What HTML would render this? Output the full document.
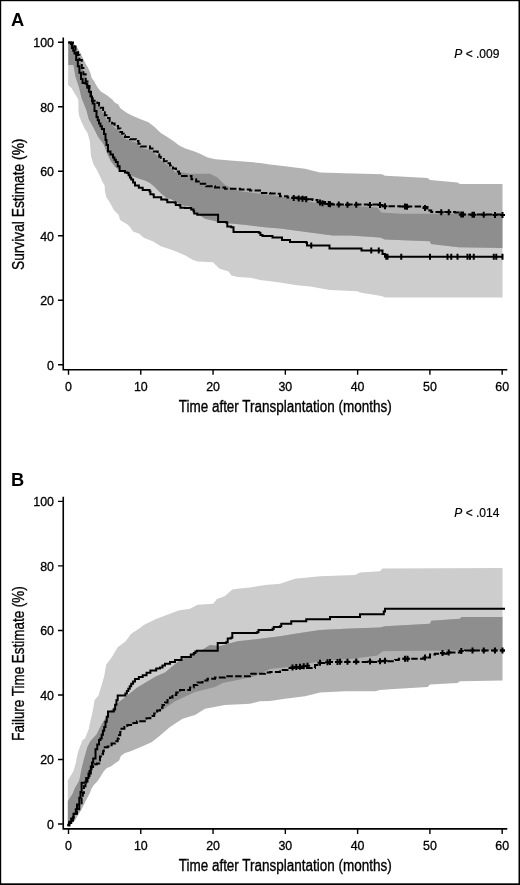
<!DOCTYPE html>
<html><head><meta charset="utf-8"><style>
html,body{margin:0;padding:0;background:#fff;}
svg{display:block;filter:grayscale(1);}
text{font-family:"Liberation Sans",sans-serif;fill:#000;}
.tk{font-size:12.4px;stroke:#000;stroke-width:0.3px;}
.ti{font-size:16px;stroke:#000;stroke-width:0.35px;}
.lb{font-size:18.3px;font-weight:bold;}
.pv{font-size:12px;stroke:#000;stroke-width:0.2px;}
</style></head><body>
<svg width="520" height="885" viewBox="0 0 520 885">
<rect width="520" height="885" fill="#fff"/>
<clipPath id="cl1"><polygon points="68.3,42.2 73.2,43.4 75.5,49.5 78.5,56 80.5,62 82.5,68 84.5,74 86.5,80 88.5,86 90.5,92 92.7,101.5 97.3,104.6 100.8,109.2 103.1,113.8 106.5,119.6 109.6,122.7 114.6,127.5 118.1,130 120.4,133.4 123.8,136.9 125,138.5 130,140.7 136,142.5 140.8,148 150,150 157.7,156.1 160.8,160.5 170,166.9 176,173 180,172 190,173.75 210,173.75 217.5,177.5 225,185 240,191.25 280,196.25 285,197.5 307.5,201.25 320,203.75 377.5,207.5 381.25,212.5 400,213.75 502.5,213.75 502.5,297.5 385,297.5 382.5,296.25 360,292.5 357.5,291.25 330,290 310,286.5 295,285 280,282.5 260,280 250,277.7 237.7,277 231.5,275.4 228.5,271.5 219.2,268.5 216.2,265.4 213,262.3 197.7,261.5 193,260 185.4,255.4 176.2,251.5 170,249.2 160.8,246.2 153.1,241.5 143.8,237.7 139.2,233.8 133.1,231.5 130,226.9 127.5,224.5 120,220 118.75,215 113.8,210 112.3,206.9 109.2,201.5 106.2,196.9 105,191.5 104.6,185.4 102.3,181.5 100,176.2 96.9,170 93.3,164 91,156 89.8,141 87.5,133 85,129 82,123 79.5,117 78.5,112 78.3,99.5 75,94 71.5,88 68.1,85.1"/></clipPath><polygon fill="#cdcdcd" points="68.3,42.2 73.2,43.4 75.5,49.5 78.5,56 80.5,62 82.5,68 84.5,74 86.5,80 88.5,86 90.5,92 92.7,101.5 97.3,104.6 100.8,109.2 103.1,113.8 106.5,119.6 109.6,122.7 114.6,127.5 118.1,130 120.4,133.4 123.8,136.9 125,138.5 130,140.7 136,142.5 140.8,148 150,150 157.7,156.1 160.8,160.5 170,166.9 176,173 180,172 190,173.75 210,173.75 217.5,177.5 225,185 240,191.25 280,196.25 285,197.5 307.5,201.25 320,203.75 377.5,207.5 381.25,212.5 400,213.75 502.5,213.75 502.5,297.5 385,297.5 382.5,296.25 360,292.5 357.5,291.25 330,290 310,286.5 295,285 280,282.5 260,280 250,277.7 237.7,277 231.5,275.4 228.5,271.5 219.2,268.5 216.2,265.4 213,262.3 197.7,261.5 193,260 185.4,255.4 176.2,251.5 170,249.2 160.8,246.2 153.1,241.5 143.8,237.7 139.2,233.8 133.1,231.5 130,226.9 127.5,224.5 120,220 118.75,215 113.8,210 112.3,206.9 109.2,201.5 106.2,196.9 105,191.5 104.6,185.4 102.3,181.5 100,176.2 96.9,170 93.3,164 91,156 89.8,141 87.5,133 85,129 82,123 79.5,117 78.5,112 78.3,99.5 75,94 71.5,88 68.1,85.1"/><polygon fill="#b2b2b2" points="68.3,42.2 72.5,42.8 77.1,47.2 80.2,52.6 83.2,58.8 85.5,63.4 87.8,67.2 90.2,72.6 91.7,78 94,81 97.3,86.9 100.8,91.5 106.5,95 112.3,99.6 114.6,102.5 118.1,104.2 120.4,108.3 126.2,112.5 131.9,115.5 140,119 148.5,122.3 154.6,126.9 160.8,133.1 168.5,137.7 173,140.8 179.2,145.4 185.4,148.5 194.6,151.5 200,153.8 207.7,157.5 215.4,159.2 222,159.8 230,160.5 240,161.25 250,162 260,163 270,164.5 285,166.25 305,168.75 320,172.5 345,173.25 382,174.2 385,175.8 400,176.5 427.5,178 430,180 457.5,182.5 460,184 502.5,184 502.5,248 458.5,247.3 431,244 430,241.25 385,239.5 380,237.5 350,235.5 332.5,235.5 310,232.5 295,230.5 280,228.5 265,227.3 258.8,226.5 246.5,225 231.2,223.5 218.8,222.7 215.8,221.2 205,218.8 200.4,215.8 194.2,210.4 190,206.5 185,205.8 181.2,205 177.3,202.7 171.9,199.6 166.5,198.1 161.9,194.2 158.1,190.4 154.2,186.5 149.6,182.7 145,180.4 137,178 125.4,173 118,169 115.2,167 110.6,160.8 107.2,153.8 103.7,144.6 97.9,136.5 93.3,127.3 88.7,119 86.4,110 84,104 81.5,98 79.2,88 75.4,76.5 73.5,65 68.3,65"/><polygon fill="#8e8e8e" clip-path="url(#cl1)" points="68.3,42.2 72.5,42.8 77.1,47.2 80.2,52.6 83.2,58.8 85.5,63.4 87.8,67.2 90.2,72.6 91.7,78 94,81 97.3,86.9 100.8,91.5 106.5,95 112.3,99.6 114.6,102.5 118.1,104.2 120.4,108.3 126.2,112.5 131.9,115.5 140,119 148.5,122.3 154.6,126.9 160.8,133.1 168.5,137.7 173,140.8 179.2,145.4 185.4,148.5 194.6,151.5 200,153.8 207.7,157.5 215.4,159.2 222,159.8 230,160.5 240,161.25 250,162 260,163 270,164.5 285,166.25 305,168.75 320,172.5 345,173.25 382,174.2 385,175.8 400,176.5 427.5,178 430,180 457.5,182.5 460,184 502.5,184 502.5,248 458.5,247.3 431,244 430,241.25 385,239.5 380,237.5 350,235.5 332.5,235.5 310,232.5 295,230.5 280,228.5 265,227.3 258.8,226.5 246.5,225 231.2,223.5 218.8,222.7 215.8,221.2 205,218.8 200.4,215.8 194.2,210.4 190,206.5 185,205.8 181.2,205 177.3,202.7 171.9,199.6 166.5,198.1 161.9,194.2 158.1,190.4 154.2,186.5 149.6,182.7 145,180.4 137,178 125.4,173 118,169 115.2,167 110.6,160.8 107.2,153.8 103.7,144.6 97.9,136.5 93.3,127.3 88.7,119 86.4,110 84,104 81.5,98 79.2,88 75.4,76.5 73.5,65 68.3,65"/><path d="M68.3,42.4 H71 V44 H72 V48 H73.25 V50.7 H74.5 V53.4 H76.2 V60 H77.8 V66.3 H79.4 V72.7 H81 V79 H82.6 V83 H85.7 V83.7 H87.3 V87.7 H88.9 V91.6 H90.5 V96.4 H92 V101 H92.7 V103.5 H94.5 V111 H96.5 V117 H97.75 V120.25 H99 V123.5 H100.45 V126.25 H101.9 V129 H104 V134 H105.5 V140 H106.5 V145 H108 V151.5 H110.5 V154.5 H113 V157.5 H114.4 V159.75 H115.8 V162 H117.7 V166.2 H119.6 V171 H125 V172.5 H127.3 V173 H128.6 V175.2 H129.9 V177.4 H131.2 V179.6 H133.1 V182.5 H135 V185.4 H138.85 V187.7 H142.7 V190 H149.6 V191.5 H150.4 V194.2 H153.5 V195 H153.8 V197.3 H160.4 V197.3 H161.2 V199.6 H166.5 V200 H167.3 V202.3 H175 V202.7 H175.8 V205 H179.6 V205.4 H180.4 V207.7 H185 V208.1 H189.6 V208.1 H191.2 V209.6 H193.5 V211.2 H194.2 V213.5 H197.3 V214.7 H216.5 V214.7 H218.1 V221.9 H226.5 V222.7 H227.3 V226.5 H231.2 V227.3 H233.5 V231.9 H258.8 V232.7 H260.4 V235 H262.5 V236 H272.5 V237.5 H282 V240 H290 V242 H306 V242.5 H307 V245.5 H328.5 V245.5 H329.5 V248.5 H360.5 V248.5 H361.5 V250.6 H381 V250.6 H382.5 V254 H385 V256.8 H503 V256.8" fill="none" stroke="#000" stroke-width="2" stroke-linejoin="miter"/><path d="M68.3,42.4 H73 V43.5 H74.25 V46.5 H75.5 V49.5 H76.75 V52.25 H78 V55 H79.4 V60 H81.8 V67.9 H83.4 V74.2 H85.7 V81.4 H87.5 V86 H89.5 V92 H91 V97 H92.7 V100.8 H97.3 V103.1 H99.05 V105.4 H100.8 V107.7 H103.1 V112.3 H104.8 V115.2 H106.5 V118.1 H109.6 V121.2 H112.1 V123.6 H114.6 V126 H118.1 V128.5 H120.4 V131.9 H122.1 V133.65 H123.8 V135.4 H125 V137 H130 V139.2 H136 V141 H138.4 V143.75 H140.8 V146.5 H150 V148.5 H153.85 V151.55 H157.7 V154.6 H159.25 V156.8 H160.8 V159 H163.87 V161.13 H166.93 V163.27 H170 V165.4 H173 V168.45 H176 V171.5 H179 V173.75 H182 V176 H191.5 V179.2 H196.15 V181.5 H200.8 V183.8 H206.2 V186.2 H215 V187.5 H225 V188.75 H240 V189.5 H250 V190.5 H260 V193 H270 V193.5 H277.5 V193.75 H280 V196.25 H285 V196.25 H287.5 V197.5 H307.5 V199.25 H312.5 V200 H317.5 V202 H325 V203.75 H332.5 V204.5 H380 V205 H382.5 V206.25 H400 V206.5 H422.5 V207 H427.5 V208.75 H429.38 V210.38 H431.25 V212 H455 V212.5 H458.75 V214.5 H503 V215" fill="none" stroke="#000" stroke-width="2" stroke-dasharray="6.5 2.3"/><path d="M311.25,242.5v6M371.25,247.6v6M378.75,247.6v6M386.25,253.8v6M387.5,253.8v6M401.25,253.8v6M430,253.8v6M447.5,253.8v6M451.25,253.8v6M457.5,253.8v6M467.5,253.8v6M470,253.8v6M473.75,253.8v6M493.75,253.8v6M496.25,253.8v6M502.5,253.8v6M293.75,195.05v6M291.25,198.05h5M298.75,195.48v6M296.25,198.48h5M302.5,195.81v6M300,198.81h5M306.25,196.14v6M303.75,199.14h5M320,199.58v6M317.5,202.58h5M322.5,200.17v6M320,203.17h5M328.75,201.12v6M326.25,204.12h5M330,201.25v6M327.5,204.25h5M338.75,201.57v6M336.25,204.57h5M347.5,201.66v6M345,204.66h5M356.25,201.75v6M353.75,204.75h5M370,201.89v6M367.5,204.89h5M380,202v6M377.5,205h5M385,203.29v6M382.5,206.29h5M405,203.61v6M402.5,206.61h5M407,203.66v6M404.5,206.66h5M425,204.88v6M422.5,207.88h5M441.25,209.21v6M438.75,212.21h5M448.75,209.37v6M446.25,212.37h5M461.25,211.53v6M458.75,214.53h5M463,211.55v6M460.5,214.55h5M472.5,211.66v6M470,214.66h5M474,211.67v6M471.5,214.67h5M483.75,211.78v6M481.25,214.78h5M495,211.91v6M492.5,214.91h5M502.5,211.99v6M500,214.99h5" fill="none" stroke="#000" stroke-width="2"/><path d="M63.25,37.5 V369.7 H507.3" fill="none" stroke="#000" stroke-width="1.6"/><text x="54" y="369.7" text-anchor="end" class="tk">0</text><text x="54" y="305.18" text-anchor="end" class="tk">20</text><text x="54" y="240.66" text-anchor="end" class="tk">40</text><text x="54" y="176.14" text-anchor="end" class="tk">60</text><text x="54" y="111.62" text-anchor="end" class="tk">80</text><text x="54" y="47.1" text-anchor="end" class="tk">100</text><text x="68.5" y="390.5" text-anchor="middle" class="tk">0</text><text x="140.78" y="390.5" text-anchor="middle" class="tk">10</text><text x="213.06" y="390.5" text-anchor="middle" class="tk">20</text><text x="285.34" y="390.5" text-anchor="middle" class="tk">30</text><text x="357.62" y="390.5" text-anchor="middle" class="tk">40</text><text x="429.9" y="390.5" text-anchor="middle" class="tk">50</text><text x="502.18" y="390.5" text-anchor="middle" class="tk">60</text><path d="M58,364.8H63.25M58,300.28H63.25M58,235.76H63.25M58,171.24H63.25M58,106.72H63.25M58,42.2H63.25M68.5,369.7v5M140.78,369.7v5M213.06,369.7v5M285.34,369.7v5M357.62,369.7v5M429.9,369.7v5M502.18,369.7v5" stroke="#000" stroke-width="1.4" fill="none"/><text x="285.2" y="412" text-anchor="middle" class="ti" textLength="213" lengthAdjust="spacingAndGlyphs">Time after Transplantation (months)</text><text transform="translate(23.8,204.3) rotate(-90)" x="0" y="0" text-anchor="middle" class="ti" textLength="131.5" lengthAdjust="spacingAndGlyphs">Survival Estimate (%)</text><text x="11" y="26.3" class="lb">A</text><text x="454.3" y="58" class="pv"><tspan font-style="italic">P</tspan> &lt; .009</text><clipPath id="cl2"><polygon points="67.8,801.2 67.8,780.5 71.3,774.8 73.5,771 75.8,763 77.8,752.5 80,746.5 82.5,740 85,738.5 88.8,728.8 90.8,719.2 92.7,711.5 94.6,700 98.5,695.4 104.2,676.2 106.2,664.6 111.9,656.9 117.7,647.3 125.4,641.5 131.2,633.8 136.9,630 140,627.9 143.8,625 155.4,619.2 178.5,610.6 190,608.7 197.7,604.8 213.1,603.8 216.9,599 224.6,596.2 232.3,589.4 240,588.5 250,587.5 265,585 280,583.75 295,578.75 320,576.25 355,575 360,572.5 380,571.25 382.5,568.5 502.5,568 502.5,650 400,651 382.5,651.25 377.5,655.5 352.5,658.75 320,661.25 295,666.25 270,669 255,676.25 237.5,680 222.5,683 215,687 195,692 175,701.25 162.5,710 150,717 146.5,720.3 136.9,723.2 127.3,727 121.5,730.8 117.7,740.5 115.1,743.2 111.6,745.5 107.7,748.5 103.8,749.3 103.1,753.2 102.3,756.2 100,758.5 99.2,762.4 96.9,765.5 94.6,766.2 93.1,767.8 91.5,769 89.5,773 87.5,778 85.5,783.5 83.9,788.2 82.8,795.1 81.6,799.7 79.3,806.6 77,811.2 74.7,815.8 71.2,822.8 67.8,825.5"/></clipPath><polygon fill="#cdcdcd" points="67.8,801.2 67.8,780.5 71.3,774.8 73.5,771 75.8,763 77.8,752.5 80,746.5 82.5,740 85,738.5 88.8,728.8 90.8,719.2 92.7,711.5 94.6,700 98.5,695.4 104.2,676.2 106.2,664.6 111.9,656.9 117.7,647.3 125.4,641.5 131.2,633.8 136.9,630 140,627.9 143.8,625 155.4,619.2 178.5,610.6 190,608.7 197.7,604.8 213.1,603.8 216.9,599 224.6,596.2 232.3,589.4 240,588.5 250,587.5 265,585 280,583.75 295,578.75 320,576.25 355,575 360,572.5 380,571.25 382.5,568.5 502.5,568 502.5,650 400,651 382.5,651.25 377.5,655.5 352.5,658.75 320,661.25 295,666.25 270,669 255,676.25 237.5,680 222.5,683 215,687 195,692 175,701.25 162.5,710 150,717 146.5,720.3 136.9,723.2 127.3,727 121.5,730.8 117.7,740.5 115.1,743.2 111.6,745.5 107.7,748.5 103.8,749.3 103.1,753.2 102.3,756.2 100,758.5 99.2,762.4 96.9,765.5 94.6,766.2 93.1,767.8 91.5,769 89.5,773 87.5,778 85.5,783.5 83.9,788.2 82.8,795.1 81.6,799.7 79.3,806.6 77,811.2 74.7,815.8 71.2,822.8 67.8,825.5"/><polygon fill="#b2b2b2" points="67.8,801.2 72.4,794.2 74.7,788.5 79.3,780.6 81.6,768.8 84,759 87.4,747 90.5,741 96.5,734.6 102.3,723.1 110,711.5 117.7,703 127.3,695.4 136.9,687.7 146.5,681.9 156.2,676.2 165,672.5 180,660 200,651.25 210,645 220,646 237.5,641.25 260,638.75 280,636.25 295,633.75 320,630 345,628.75 380,627.5 385,626.25 430,623.75 431.25,620.75 460,618.75 461.25,617 502.5,617 502.5,680.5 460,681.25 457.5,683 430,684.5 427.5,687 390,689.25 380,690 375,691.25 345,691.25 320,692.5 305,696.25 285,698.75 270,701 260,701.25 250,703.75 225,705 205,708.75 195,715 182.5,718.75 170,726.9 159.2,736.2 151.5,742.3 140.8,746.9 130,751.5 125,753 120.8,756 119.2,760.4 113.8,764.2 110.8,766.5 106.9,768.1 103.8,771.2 101.5,775 99.2,778.8 96.9,781.9 93.8,785 91.5,788.8 90,792.7 85.1,802.3 81.6,809.2 74.7,820.8 68.9,825.4 67.8,825.5"/><polygon fill="#8e8e8e" clip-path="url(#cl2)" points="67.8,801.2 72.4,794.2 74.7,788.5 79.3,780.6 81.6,768.8 84,759 87.4,747 90.5,741 96.5,734.6 102.3,723.1 110,711.5 117.7,703 127.3,695.4 136.9,687.7 146.5,681.9 156.2,676.2 165,672.5 180,660 200,651.25 210,645 220,646 237.5,641.25 260,638.75 280,636.25 295,633.75 320,630 345,628.75 380,627.5 385,626.25 430,623.75 431.25,620.75 460,618.75 461.25,617 502.5,617 502.5,680.5 460,681.25 457.5,683 430,684.5 427.5,687 390,689.25 380,690 375,691.25 345,691.25 320,692.5 305,696.25 285,698.75 270,701 260,701.25 250,703.75 225,705 205,708.75 195,715 182.5,718.75 170,726.9 159.2,736.2 151.5,742.3 140.8,746.9 130,751.5 125,753 120.8,756 119.2,760.4 113.8,764.2 110.8,766.5 106.9,768.1 103.8,771.2 101.5,775 99.2,778.8 96.9,781.9 93.8,785 91.5,788.8 90,792.7 85.1,802.3 81.6,809.2 74.7,820.8 68.9,825.4 67.8,825.5"/><path d="M67.3,824.8 H69.25 V821.65 H71.2 V818.5 H73.5 V813.8 H75.8 V809.2 H77 V804.6 H79.3 V797.7 H80.5 V791.9 H81.6 V782.7 H85.1 V782.7 H86.2 V778.1 H88.5 V773.5 H90.8 V766.5 H92 V762.5 H93.2 V758.5 H95.5 V749.2 H97.25 V744.6 H99 V740 H100.4 V738.5 H101.67 V734.63 H102.93 V730.77 H104.2 V726.9 H105.47 V721.77 H106.73 V716.63 H108 V711.5 H113.8 V709.6 H115.1 V704.87 H116.4 V700.13 H117.7 V695.4 H125.4 V693.5 H126.85 V691.08 H128.3 V688.65 H129.75 V686.22 H131.2 V683.8 H133.1 V681.4 H135 V679 H138.85 V677.1 H142.7 V675.2 H146.55 V672.8 H150.4 V670.4 H156.2 V668.5 H160 V667.5 H162.5 V665.62 H165 V663.75 H170 V661.88 H175 V660 H181.5 V656.9 H189.2 V656.9 H190.8 V654.6 H193.8 V653.1 H195.4 V651.5 H196.9 V650.8 H216.2 V650.8 H217.7 V643.1 H226.2 V642.3 H227.7 V638.5 H230.8 V637.7 H232.3 V633.1 H256.9 V632.3 H258.5 V630 H272.5 V628.75 H273.75 V627 H280 V626.25 H281.25 V623.75 H290 V623.75 H291.25 V621.25 H305 V621.25 H306.25 V619.25 H328.75 V619.25 H330 V617 H358.75 V617 H360 V614.25 H382.5 V614.25 H383.75 V611.5 H385 V608.75 H505 V608.75" fill="none" stroke="#000" stroke-width="2" stroke-linejoin="miter"/><path d="M67.5,825.4 H69.35 V823.1 H71.2 V820.8 H72.95 V817.3 H74.7 V813.8 H77 V809.2 H79.3 V804.6 H81.6 V797.7 H82.8 V793.1 H83.9 V786.2 H85.5 V781.5 H87.5 V776 H89.5 V771 H91.5 V767 H93.1 V765.8 H94.6 V764.2 H96.9 V763.5 H99.2 V760.4 H100 V756.5 H102.3 V754.2 H103.1 V751.2 H103.8 V747.3 H107.7 V746.5 H111.6 V743.5 H115.1 V741.2 H117.7 V738.5 H118.97 V735.27 H120.23 V732.03 H121.5 V728.8 H124.4 V726.9 H127.3 V725 H132.1 V723.1 H136.9 V721.2 H146.5 V718.3 H150.35 V715.9 H154.2 V713.5 H157.1 V710.6 H160 V707.7 H162.5 V705.1 H165 V702.5 H167.5 V700 H170 V697.5 H172.5 V695 H176.25 V692.5 H180 V690 H190 V687.5 H193.75 V685 H197.5 V682.5 H202.5 V680.62 H207.5 V678.75 H215 V677.5 H225 V676.25 H245 V676.25 H250 V673.75 H265 V672.5 H270 V672 H280 V670 H287.5 V668 H315 V665 H317.5 V663 H330 V662 H380 V661.25 H395 V660 H398.75 V658.75 H415 V658.75 H425 V657.5 H430 V654.5 H435 V653.75 H450 V652.5 H460 V651.25 H465 V650.5 H505 V650.5" fill="none" stroke="#000" stroke-width="2" stroke-dasharray="6.5 2.3"/><path d="M292.5,664.45v6M290,667.45h5M296.25,664.05v6M293.75,667.05h5M300,663.64v6M297.5,666.64h5M303.75,663.23v6M301.25,666.23h5M307.5,662.82v6M305,665.82h5M320,659.8v6M317.5,662.8h5M327.5,659.2v6M325,662.2h5M330,659v6M327.5,662h5M337.5,658.89v6M335,661.89h5M340,658.85v6M337.5,661.85h5M347.5,658.74v6M345,661.74h5M356.25,658.61v6M353.75,661.61h5M370,658.4v6M367.5,661.4h5M380,658.25v6M377.5,661.25h5M385,657.83v6M382.5,660.83h5M405,655.75v6M402.5,658.75h5M407.5,655.75v6M405,658.75h5M425,654.5v6M422.5,657.5h5M442.5,650.12v6M440,653.12h5M448.75,649.6v6M446.25,652.6h5M461.25,648.06v6M458.75,651.06h5M472.5,647.5v6M470,650.5h5M483.75,647.5v6M481.25,650.5h5M495,647.5v6M492.5,650.5h5M502.5,647.5v6M500,650.5h5" fill="none" stroke="#000" stroke-width="2"/><path d="M63.25,496.7 V828.9 H507.3" fill="none" stroke="#000" stroke-width="1.6"/><text x="54" y="828.9" text-anchor="end" class="tk">0</text><text x="54" y="764.38" text-anchor="end" class="tk">20</text><text x="54" y="699.86" text-anchor="end" class="tk">40</text><text x="54" y="635.34" text-anchor="end" class="tk">60</text><text x="54" y="570.82" text-anchor="end" class="tk">80</text><text x="54" y="506.3" text-anchor="end" class="tk">100</text><text x="68.5" y="849.7" text-anchor="middle" class="tk">0</text><text x="140.78" y="849.7" text-anchor="middle" class="tk">10</text><text x="213.06" y="849.7" text-anchor="middle" class="tk">20</text><text x="285.34" y="849.7" text-anchor="middle" class="tk">30</text><text x="357.62" y="849.7" text-anchor="middle" class="tk">40</text><text x="429.9" y="849.7" text-anchor="middle" class="tk">50</text><text x="502.18" y="849.7" text-anchor="middle" class="tk">60</text><path d="M58,824H63.25M58,759.48H63.25M58,694.96H63.25M58,630.44H63.25M58,565.92H63.25M58,501.4H63.25M68.5,828.9v5M140.78,828.9v5M213.06,828.9v5M285.34,828.9v5M357.62,828.9v5M429.9,828.9v5M502.18,828.9v5" stroke="#000" stroke-width="1.4" fill="none"/><text x="285.2" y="871.2" text-anchor="middle" class="ti" textLength="213" lengthAdjust="spacingAndGlyphs">Time after Transplantation (months)</text><text transform="translate(23.8,663.5) rotate(-90)" x="0" y="0" text-anchor="middle" class="ti" textLength="154.5" lengthAdjust="spacingAndGlyphs">Failure Time Estimate (%)</text><text x="11" y="485.5" class="lb">B</text><text x="454.3" y="517.2" class="pv"><tspan font-style="italic">P</tspan> &lt; .014</text>
<rect x="0" y="0" width="520" height="1.2" fill="#000"/>
<rect x="0" y="0" width="1.2" height="885" fill="#000"/>
<rect x="518.5" y="0" width="1.5" height="885" fill="#000"/>
<rect x="0" y="883.3" width="520" height="1.7" fill="#000"/>
</svg>
</body></html>
